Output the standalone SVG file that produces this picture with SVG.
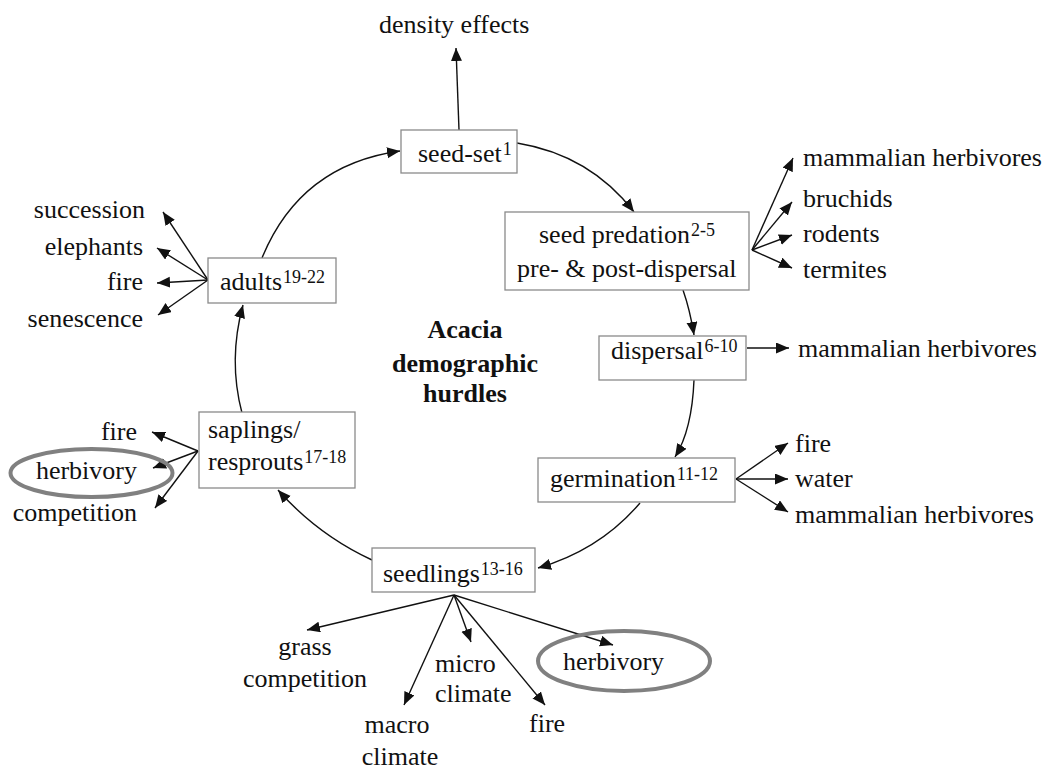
<svg xmlns="http://www.w3.org/2000/svg" width="1053" height="770" viewBox="0 0 1053 770">
<defs>
<marker id="ah" markerUnits="userSpaceOnUse" markerWidth="14" markerHeight="12" refX="13" refY="5.5" orient="auto"><path d="M0,0 L13,5.5 L0,11 z" fill="#111"/></marker>
<style>
text{font-family:'Liberation Serif','DejaVu Serif',serif;font-size:26px;fill:#111}
.sup{font-size:18px}
.title{font-weight:bold;text-anchor:middle}
.box{fill:#fff;stroke:#8a8a8a;stroke-width:1.3}
.c path,.c line{fill:none;stroke:#111;stroke-width:1.4;marker-end:url(#ah)}
.ring{fill:none;stroke:#808080;stroke-width:4}
.r{text-anchor:end}
.m{text-anchor:middle}
</style>
</defs>
<rect width="1053" height="770" fill="#fff"/>
<g class="c" id="connectors">
<path d="M262,258 Q300,165 400,151"/>
<path d="M517,143 Q590,155 634,212"/>
<path d="M683,290 Q690,310 694,335"/>
<path d="M694,380 Q692,430 675,457"/>
<path d="M640,503 Q600,550 538,568"/>
<path d="M372,560 Q318,535 278,490"/>
<path d="M242,413 Q228,360 243,305"/>
<line x1="459" y1="130" x2="456" y2="48"/>
<line x1="752" y1="250" x2="793" y2="158"/>
<line x1="752" y1="250" x2="792" y2="202"/>
<line x1="752" y1="250" x2="792" y2="235"/>
<line x1="752" y1="250" x2="792" y2="268"/>
<line x1="747" y1="348" x2="789" y2="348"/>
<line x1="736" y1="479" x2="788" y2="443"/>
<line x1="736" y1="479" x2="788" y2="479"/>
<line x1="736" y1="479" x2="788" y2="512"/>
<line x1="454" y1="595" x2="307" y2="630"/>
<line x1="454" y1="595" x2="404" y2="705"/>
<line x1="454" y1="595" x2="471" y2="642"/>
<line x1="454" y1="595" x2="545" y2="705"/>
<line x1="454" y1="595" x2="613" y2="645"/>
<line x1="208" y1="280" x2="163" y2="212"/>
<line x1="208" y1="280" x2="157" y2="248"/>
<line x1="208" y1="280" x2="157" y2="283"/>
<line x1="208" y1="280" x2="158" y2="315"/>
<line x1="198" y1="451" x2="152" y2="432"/>
<line x1="198" y1="451" x2="153" y2="468"/>
<line x1="198" y1="451" x2="155" y2="508"/>
</g>
<g font-family="Liberation Serif, DejaVu Serif, serif">
<g id="seed-set">
<rect class="box" x="401" y="130" width="116" height="43"/>
<text x="418" y="162">seed-set<tspan class="sup" dx="1" dy="-7">1</tspan></text>
</g>
<g id="density-effects"><text x="379" y="33">density effects</text></g>
<g id="seed-predation">
<rect class="box" x="505" y="212" width="244" height="78"/>
<text x="539" y="243">seed predation<tspan class="sup" dx="1" dy="-7">2-5</tspan></text>
<text x="517" y="277">pre- &amp; post-dispersal</text>
</g>
<g id="seed-predation-labels">
<text x="803" y="166">mammalian herbivores</text>
<text x="803" y="207">bruchids</text>
<text x="803" y="242">rodents</text>
<text x="803" y="278">termites</text>
</g>
<g id="dispersal">
<rect class="box" x="599" y="336" width="147" height="44"/>
<text x="611" y="359">dispersal<tspan class="sup" dx="1" dy="-7">6-10</tspan></text>
</g>
<g id="dispersal-labels"><text x="798" y="357">mammalian herbivores</text></g>
<g id="germination">
<rect class="box" x="538" y="458" width="197" height="44"/>
<text x="550" y="487">germination<tspan class="sup" dx="1" dy="-7">11-12</tspan></text>
</g>
<g id="germination-labels">
<text x="795" y="452">fire</text>
<text x="795" y="487">water</text>
<text x="795" y="523">mammalian herbivores</text>
</g>
<g id="seedlings">
<rect class="box" x="372" y="548" width="163" height="44"/>
<text x="383" y="582">seedlings<tspan class="sup" dx="1" dy="-7">13-16</tspan></text>
</g>
<g id="seedlings-labels">
<text class="m" x="305" y="655">grass</text>
<text class="m" x="305" y="687">competition</text>
<text class="m" x="397" y="733">macro</text>
<text class="m" x="400" y="765">climate</text>
<text x="435" y="672">micro</text>
<text x="435" y="702">climate</text>
<text x="529" y="732">fire</text>
<ellipse class="ring" cx="624" cy="661" rx="86" ry="30"/>
<text x="563" y="670">herbivory</text>
</g>
<g id="saplings">
<rect class="box" x="199" y="412" width="156" height="76"/>
<text x="208" y="438">saplings/</text>
<text x="208" y="470">resprouts<tspan class="sup" dx="1" dy="-7">17-18</tspan></text>
</g>
<g id="saplings-labels">
<text class="r" x="137" y="440">fire</text>
<ellipse class="ring" cx="91.5" cy="473" rx="81" ry="24"/>
<text class="r" x="137" y="479">herbivory</text>
<text class="r" x="137" y="521">competition</text>
</g>
<g id="adults">
<rect class="box" x="208" y="258" width="128" height="45"/>
<text x="220" y="290">adults<tspan class="sup" dx="1" dy="-7">19-22</tspan></text>
</g>
<g id="adults-labels">
<text class="r" x="145" y="218">succession</text>
<text class="r" x="143" y="255">elephants</text>
<text class="r" x="143" y="290">fire</text>
<text class="r" x="143" y="327">senescence</text>
</g>
<g id="title">
<text class="title" x="465" y="338">Acacia</text>
<text class="title" x="465" y="372">demographic</text>
<text class="title" x="465" y="402">hurdles</text>
</g>
</g>
</svg>
